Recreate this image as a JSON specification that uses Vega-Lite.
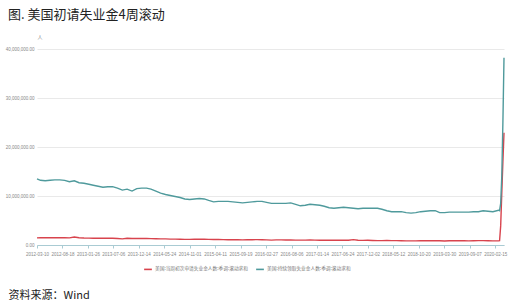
{
  "$schema": "https://vega.github.io/schema/vega-lite/v6.json",
  "width": 467,
  "height": 196,
  "autosize": {"type": "none"},
  "padding": {"left": 37, "top": 49, "right": 11, "bottom": 60},
  "background": "white",
  "config": {"view": {"stroke": null}},
  "title": {
    "text": "图. 美国初请失业金4周滚动",
    "anchor": "start",
    "frame": "group",
    "dx": -29,
    "offset": 12,
    "font": "Noto Sans CJK SC",
    "fontSize": 13,
    "fontWeight": "normal",
    "color": "#222222"
  },
  "datasets": {
    "continuing": [
      {"date":"2012-03-10","value":13500000},{"date":"2012-04-01","value":13200000},{"date":"2012-05-01","value":13100000},{"date":"2012-06-01","value":13200000},{"date":"2012-07-01","value":13300000},{"date":"2012-08-01","value":13300000},{"date":"2012-09-01","value":13200000},{"date":"2012-10-01","value":12900000},{"date":"2012-11-01","value":13100000},{"date":"2012-12-01","value":12700000},
      {"date":"2013-01-01","value":12600000},{"date":"2013-02-01","value":12400000},{"date":"2013-03-01","value":12200000},{"date":"2013-04-01","value":12000000},{"date":"2013-05-01","value":11800000},{"date":"2013-06-01","value":11900000},{"date":"2013-07-01","value":11900000},{"date":"2013-08-01","value":11600000},{"date":"2013-09-01","value":11200000},{"date":"2013-10-01","value":11400000},{"date":"2013-11-01","value":11000000},{"date":"2013-12-01","value":11500000},
      {"date":"2014-01-01","value":11600000},{"date":"2014-02-01","value":11600000},{"date":"2014-03-01","value":11400000},{"date":"2014-04-01","value":11000000},{"date":"2014-05-01","value":10600000},{"date":"2014-06-01","value":10300000},{"date":"2014-07-01","value":10100000},{"date":"2014-08-01","value":9900000},{"date":"2014-09-01","value":9700000},{"date":"2014-10-01","value":9400000},{"date":"2014-11-01","value":9300000},{"date":"2014-12-01","value":9400000},
      {"date":"2015-01-01","value":9500000},{"date":"2015-02-01","value":9400000},{"date":"2015-03-01","value":9100000},{"date":"2015-04-01","value":8800000},{"date":"2015-05-01","value":8900000},{"date":"2015-06-01","value":8900000},{"date":"2015-07-01","value":8900000},{"date":"2015-08-01","value":8800000},{"date":"2015-09-01","value":8700000},{"date":"2015-10-01","value":8600000},{"date":"2015-11-01","value":8700000},{"date":"2015-12-01","value":8800000},
      {"date":"2016-01-01","value":8900000},{"date":"2016-02-01","value":8900000},{"date":"2016-03-01","value":8700000},{"date":"2016-04-01","value":8500000},{"date":"2016-05-01","value":8500000},{"date":"2016-06-01","value":8500000},{"date":"2016-07-01","value":8500000},{"date":"2016-08-01","value":8600000},{"date":"2016-09-01","value":8300000},{"date":"2016-10-01","value":8000000},{"date":"2016-11-01","value":8100000},{"date":"2016-12-01","value":8300000},
      {"date":"2017-01-01","value":8200000},{"date":"2017-02-01","value":8100000},{"date":"2017-03-01","value":7900000},{"date":"2017-04-01","value":7600000},{"date":"2017-05-01","value":7500000},{"date":"2017-06-01","value":7600000},{"date":"2017-07-01","value":7700000},{"date":"2017-08-01","value":7600000},{"date":"2017-09-01","value":7500000},{"date":"2017-10-01","value":7400000},{"date":"2017-11-01","value":7500000},{"date":"2017-12-01","value":7500000},
      {"date":"2018-01-01","value":7500000},{"date":"2018-02-01","value":7500000},{"date":"2018-03-01","value":7300000},{"date":"2018-04-01","value":7000000},{"date":"2018-05-01","value":6800000},{"date":"2018-06-01","value":6800000},{"date":"2018-07-01","value":6800000},{"date":"2018-08-01","value":6600000},{"date":"2018-09-01","value":6500000},{"date":"2018-10-01","value":6600000},{"date":"2018-11-01","value":6800000},{"date":"2018-12-01","value":6900000},
      {"date":"2019-01-01","value":7000000},{"date":"2019-02-01","value":7000000},{"date":"2019-03-01","value":6600000},{"date":"2019-04-01","value":6600000},{"date":"2019-05-01","value":6700000},{"date":"2019-06-01","value":6700000},{"date":"2019-07-01","value":6700000},{"date":"2019-08-01","value":6700000},{"date":"2019-09-01","value":6700000},{"date":"2019-10-01","value":6800000},{"date":"2019-11-01","value":6800000},{"date":"2019-12-01","value":7000000},
      {"date":"2020-01-01","value":6900000},{"date":"2020-02-01","value":6800000},{"date":"2020-03-07","value":7100000},{"date":"2020-03-14","value":7000000},{"date":"2020-03-21","value":8500000},{"date":"2020-03-28","value":14000000},{"date":"2020-04-04","value":25000000},{"date":"2020-04-11","value":38200000}
    ],
    "initial": [
      {"date":"2012-03-10","value":1450000},{"date":"2012-04-01","value":1500000},{"date":"2012-05-01","value":1490000},{"date":"2012-06-01","value":1500000},{"date":"2012-07-01","value":1470000},{"date":"2012-08-01","value":1480000},{"date":"2012-09-01","value":1480000},{"date":"2012-10-01","value":1460000},{"date":"2012-11-01","value":1620000},{"date":"2012-12-01","value":1480000},
      {"date":"2013-01-01","value":1420000},{"date":"2013-02-01","value":1400000},{"date":"2013-03-01","value":1380000},{"date":"2013-04-01","value":1380000},{"date":"2013-05-01","value":1380000},{"date":"2013-06-01","value":1380000},{"date":"2013-07-01","value":1370000},{"date":"2013-08-01","value":1330000},{"date":"2013-09-01","value":1260000},{"date":"2013-10-01","value":1380000},{"date":"2013-11-01","value":1330000},{"date":"2013-12-01","value":1360000},
      {"date":"2014-01-01","value":1340000},{"date":"2014-02-01","value":1350000},{"date":"2014-03-01","value":1300000},{"date":"2014-04-01","value":1280000},{"date":"2014-05-01","value":1250000},{"date":"2014-06-01","value":1250000},{"date":"2014-07-01","value":1200000},{"date":"2014-08-01","value":1200000},{"date":"2014-09-01","value":1180000},{"date":"2014-10-01","value":1140000},{"date":"2014-11-01","value":1150000},{"date":"2014-12-01","value":1170000},
      {"date":"2015-01-01","value":1180000},{"date":"2015-02-01","value":1160000},{"date":"2015-03-01","value":1150000},{"date":"2015-04-01","value":1130000},{"date":"2015-05-01","value":1120000},{"date":"2015-06-01","value":1100000},{"date":"2015-07-01","value":1080000},{"date":"2015-08-01","value":1080000},{"date":"2015-09-01","value":1060000},{"date":"2015-10-01","value":1050000},{"date":"2015-11-01","value":1070000},{"date":"2015-12-01","value":1080000},
      {"date":"2016-01-01","value":1100000},{"date":"2016-02-01","value":1060000},{"date":"2016-03-01","value":1040000},{"date":"2016-04-01","value":1000000},{"date":"2016-05-01","value":1040000},{"date":"2016-06-01","value":1040000},{"date":"2016-07-01","value":1020000},{"date":"2016-08-01","value":1020000},{"date":"2016-09-01","value":1000000},{"date":"2016-10-01","value":990000},{"date":"2016-11-01","value":990000},{"date":"2016-12-01","value":1010000},
      {"date":"2017-01-01","value":990000},{"date":"2017-02-01","value":960000},{"date":"2017-03-01","value":980000},{"date":"2017-04-01","value":970000},{"date":"2017-05-01","value":960000},{"date":"2017-06-01","value":970000},{"date":"2017-07-01","value":970000},{"date":"2017-08-01","value":960000},{"date":"2017-09-01","value":1100000},{"date":"2017-10-01","value":980000},{"date":"2017-11-01","value":950000},{"date":"2017-12-01","value":970000},
      {"date":"2018-01-01","value":930000},{"date":"2018-02-01","value":900000},{"date":"2018-03-01","value":890000},{"date":"2018-04-01","value":910000},{"date":"2018-05-01","value":890000},{"date":"2018-06-01","value":890000},{"date":"2018-07-01","value":860000},{"date":"2018-08-01","value":850000},{"date":"2018-09-01","value":840000},{"date":"2018-10-01","value":850000},{"date":"2018-11-01","value":880000},{"date":"2018-12-01","value":870000},
      {"date":"2019-01-01","value":860000},{"date":"2019-02-01","value":900000},{"date":"2019-03-01","value":860000},{"date":"2019-04-01","value":820000},{"date":"2019-05-01","value":860000},{"date":"2019-06-01","value":870000},{"date":"2019-07-01","value":860000},{"date":"2019-08-01","value":860000},{"date":"2019-09-01","value":850000},{"date":"2019-10-01","value":860000},{"date":"2019-11-01","value":890000},{"date":"2019-12-01","value":900000},
      {"date":"2020-01-01","value":870000},{"date":"2020-02-01","value":840000},{"date":"2020-03-07","value":840000},{"date":"2020-03-14","value":880000},{"date":"2020-03-21","value":3900000},{"date":"2020-03-28","value":10600000},{"date":"2020-04-04","value":17000000},{"date":"2020-04-11","value":22900000}
    ]
  },
  "layer": [
    {
      "data": {"name": "initial"},
      "mark": {"type": "line", "strokeWidth": 1.4},
      "encoding": {
        "color": {"datum": "美国:当周初次申请失业金人数:季调:滚动求和"}
      }
    },
    {
      "data": {"name": "continuing"},
      "mark": {"type": "line", "strokeWidth": 1.4},
      "encoding": {
        "color": {"datum": "美国:持续领取失业金人数:季调:滚动求和"}
      }
    }
  ],
  "encoding": {
    "x": {
      "field": "date",
      "type": "temporal",
      "scale": {"type": "utc", "domain": [{"year": 2012, "month": 3, "date": 10, "utc": true}, {"year": 2020, "month": 4, "date": 11, "utc": true}]},
      "axis": {
        "title": "资料来源：Wind",
        "titleFont": "Noto Sans CJK SC",
        "titleFontSize": 11,
        "titleFontWeight": "normal",
        "titleColor": "#222222",
        "titleAnchor": "start",
        "titleAlign": "left",
        "titleX": -29,
        "titleY": 44,
        "labelExpr": "utcFormat(datum.value, '%Y-%m-%d')",
        "values": [
          {"year":2012,"month":3,"date":10,"utc":true},{"year":2012,"month":8,"date":18,"utc":true},{"year":2013,"month":1,"date":26,"utc":true},{"year":2013,"month":7,"date":6,"utc":true},{"year":2013,"month":12,"date":14,"utc":true},{"year":2014,"month":5,"date":24,"utc":true},{"year":2014,"month":11,"date":1,"utc":true},{"year":2015,"month":4,"date":11,"utc":true},{"year":2015,"month":9,"date":19,"utc":true},{"year":2016,"month":2,"date":27,"utc":true},{"year":2016,"month":8,"date":6,"utc":true},{"year":2017,"month":1,"date":14,"utc":true},{"year":2017,"month":6,"date":24,"utc":true},{"year":2017,"month":12,"date":2,"utc":true},{"year":2018,"month":5,"date":12,"utc":true},{"year":2018,"month":10,"date":20,"utc":true},{"year":2019,"month":3,"date":30,"utc":true},{"year":2019,"month":9,"date":7,"utc":true},{"year":2020,"month":2,"date":15,"utc":true}
        ],
        "grid": false,
        "domainColor": "#a9cbd3",
        "domainWidth": 1,
        "tickColor": "#a9cbd3",
        "tickSize": 3,
        "labelFont": "Liberation Sans",
        "labelFontSize": 4.5,
        "labelColor": "#888888",
        "labelPadding": 3,
        "labelAngle": 0,
        "labelOverlap": false,
        "labelFlush": false
      }
    },
    "y": {
      "field": "value",
      "type": "quantitative",
      "scale": {"domain": [0, 40000000]},
      "axis": {
        "title": "人",
        "titleAngle": 0,
        "titleX": 0,
        "titleY": -10,
        "titleAlign": "left",
        "titleFont": "Noto Sans CJK SC",
        "titleFontSize": 5,
        "titleFontWeight": "normal",
        "titleColor": "#888888",
        "values": [0, 10000000, 20000000, 30000000, 40000000],
        "format": ",.2f",
        "domain": false,
        "ticks": false,
        "gridColor": "#e9e9e9",
        "gridWidth": 1,
        "labelFont": "Liberation Sans",
        "labelFontSize": 4.5,
        "labelColor": "#888888",
        "labelPadding": 3
      }
    },
    "color": {
      "type": "nominal",
      "scale": {
        "domain": ["美国:当周初次申请失业金人数:季调:滚动求和", "美国:持续领取失业金人数:季调:滚动求和"],
        "range": ["#d8434d", "#4f9a9c"]
      },
      "legend": {
        "title": null,
        "orient": "none",
        "legendX": 106,
        "legendY": 215,
        "direction": "horizontal",
        "symbolType": "stroke",
        "symbolSize": 60,
        "symbolStrokeWidth": 1.6,
        "labelFont": "Noto Sans CJK SC",
        "labelFontSize": 4.7,
        "labelColor": "#777777",
        "columnPadding": 4,
        "labelOffset": 2
      }
    }
  }
}
